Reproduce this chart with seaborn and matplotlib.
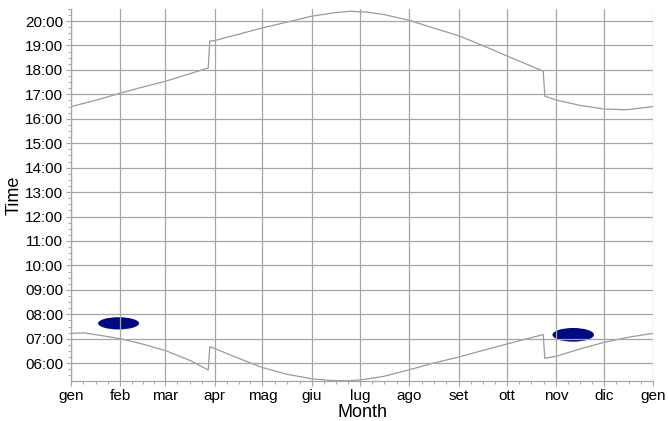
import numpy as np
import pandas as pd
import matplotlib
matplotlib.use("Agg")
import matplotlib.pyplot as plt
from matplotlib.patches import Ellipse
from matplotlib.ticker import FixedLocator, FuncFormatter, MultipleLocator
import seaborn as sns

# ---- data (day of year, hours) ----
month_labels = ["gen", "feb", "mar", "apr", "mag", "giu", "lug", "ago",
                "set", "ott", "nov", "dic", "gen"]
month_starts = [0, 31, 59, 90, 120, 151, 181, 212, 243, 273, 304, 334, 365]

sunrise_days = [0, 8, 20, 31, 45, 59, 75, 86, 87, 90, 105, 120, 135, 151,
                163, 172, 181, 196, 212, 227, 243, 258, 273, 296, 297, 304,
                319, 334, 350, 365]
sunrise_hours = [7.22, 7.24, 7.12, 7.0, 6.78, 6.52, 6.1, 5.72, 6.67, 6.6,
                 6.2, 5.82, 5.55, 5.36, 5.29, 5.28, 5.31, 5.46, 5.73, 6.0,
                 6.25, 6.52, 6.78, 7.17, 6.2, 6.28, 6.58, 6.85, 7.07, 7.22]

sunset_days = [0, 15, 31, 45, 59, 86, 87, 90, 120, 151, 165, 175, 185, 196,
               212, 227, 243, 258, 273, 296, 297, 304, 319, 334, 348, 365]
sunset_hours = [16.5, 16.75, 17.05, 17.3, 17.53, 18.08, 19.18, 19.2, 19.72,
                20.2, 20.34, 20.4, 20.37, 20.27, 20.03, 19.72, 19.4, 19.0,
                18.58, 17.95, 16.93, 16.77, 16.55, 16.4, 16.37, 16.5]

event_center_day = [29.8, 314.8]
event_center_hour = [7.63, 7.16]
event_span_days = [25.7, 26.0]
event_span_hours = [0.5, 0.56]

sns.set_style("ticks")
plt.rcParams["font.family"] = ["Liberation Sans", "DejaVu Sans"]
plt.rcParams["text.color"] = "black"
plt.rcParams["axes.labelcolor"] = "black"

fig = plt.figure(figsize=(6.68, 4.21), dpi=100)
ax = fig.add_axes([0.1063, 0.095, 0.978 - 0.1063, 0.979 - 0.095])

line_col = "#9a9a9a"
grid_col = "#a6a6a6"

df_rise = pd.DataFrame({"day": sunrise_days, "hour": sunrise_hours})
df_set = pd.DataFrame({"day": sunset_days, "hour": sunset_hours})
sns.lineplot(data=df_rise, x="day", y="hour", color=line_col, lw=0.9, ax=ax)
sns.lineplot(data=df_set, x="day", y="hour", color=line_col, lw=0.9, ax=ax)

for cx, cy, w, h in zip(event_center_day, event_center_hour,
                        event_span_days, event_span_hours):
    ax.add_patch(Ellipse((cx, cy), w, h, facecolor="#000a80",
                         edgecolor="none", zorder=1))

ax.set_xlim(0, 365)
ax.set_ylim(5.27, 20.5)

ax.xaxis.set_major_locator(FixedLocator(month_starts))
ax.set_xticklabels(month_labels)
minor_x = []
for a, b in zip(month_starts[:-1], month_starts[1:]):
    minor_x += [a + (b - a) * k / 4 for k in (1, 2, 3)]
ax.xaxis.set_minor_locator(FixedLocator(minor_x))

ax.yaxis.set_major_locator(MultipleLocator(1))
ax.yaxis.set_minor_locator(MultipleLocator(0.25))
ax.yaxis.set_major_formatter(FuncFormatter(lambda v, p: f"{int(round(v)):02d}:00"))

ax.set_axisbelow(False)
ax.grid(True, which="major", color=grid_col, lw=0.9, zorder=3)
for s in ("top", "right"):
    ax.spines[s].set_visible(False)
for s in ("left", "bottom"):
    ax.spines[s].set_color(grid_col)
    ax.spines[s].set_linewidth(0.9)

ax.tick_params(which="major", length=3.5, width=0.8, color=grid_col,
               labelsize=11, labelcolor="black", pad=2)
ax.tick_params(which="minor", length=2, width=0.7, color=grid_col)

ax.set_xlabel("Month", fontsize=13, labelpad=1, color="black")
ax.set_ylabel("Time", fontsize=13, labelpad=2, color="black")

fig.savefig("out.png", dpi=100)
